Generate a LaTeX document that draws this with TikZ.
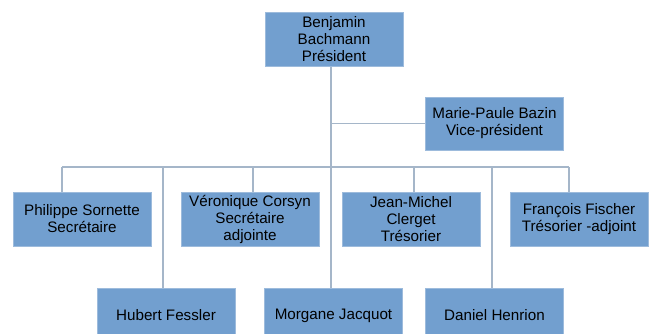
\documentclass[tikz,border=0pt]{standalone}
\usepackage{fontspec}
\setmainfont{Liberation Sans}
\usetikzlibrary{positioning}

\definecolor{boxblue}{HTML}{729FCF}
\definecolor{boxedge}{HTML}{9DBBDC}
\definecolor{linkblue}{HTML}{A5B6C9}

\tikzset{
    member/.style={draw=boxedge,line width=0.6pt,fill=boxblue,minimum width=138,minimum height=54,
        inner sep=1pt,align=center,font=\fontsize{15.2}{17}\selectfont},
    link/.style={draw=linkblue,line width=1.1pt}
}

\begin{document}
\begin{tikzpicture}[x=1pt,y=-1pt]
    \useasboundingbox (0,0) rectangle (649,333);

    \coordinate (trunk) at (331,0);

    \path (334,39.5) node[member] (pres) {Benjamin\\Bachmann\\Président};
    \path (494.5,123.5) node[member,minimum height=53] (vice) {Marie-Paule Bazin\\Vice-président};

    \path (82,219) node[member] (philippe) {Philippe Sornette\\Secrétaire};
    \path (250,219) node[member] (veronique) {Véronique Corsyn\\Secrétaire\\adjointe};
    \path (411,219) node[member] (jeanmichel) {Jean-Michel\\Clerget\\Trésorier};
    \path (579,219) node[member] (francois) {François Fischer\\Trésorier -adjoint};

    \path (166,315.5) node[member] (hubert) {Hubert Fessler};
    \path (333.5,315.5) node[member] (morgane) {Morgane Jacquot};
    \path (494.5,315.5) node[member] (daniel) {Daniel Henrion};

    % trunk and vice-president branch
    \draw[link] (trunk |- pres.south) -- (trunk |- morgane.north);
    \draw[link] (trunk |- vice.west) -- (vice.west);

    % drop points on the bus
    \coordinate (dphilippe) at (62,167);
    \coordinate (dhubert) at (163,167);
    \coordinate (dveronique) at (253,167);
    \coordinate (djeanmichel) at (414,167);
    \coordinate (ddaniel) at (492,167);
    \coordinate (dfrancois) at (569,167);

    \draw[link] (dphilippe) -- (dfrancois);
    \foreach \who in {philippe,veronique,jeanmichel,francois,hubert,daniel}
        \draw[link] (d\who) -- (d\who |- \who.north);
\end{tikzpicture}
\end{document}
